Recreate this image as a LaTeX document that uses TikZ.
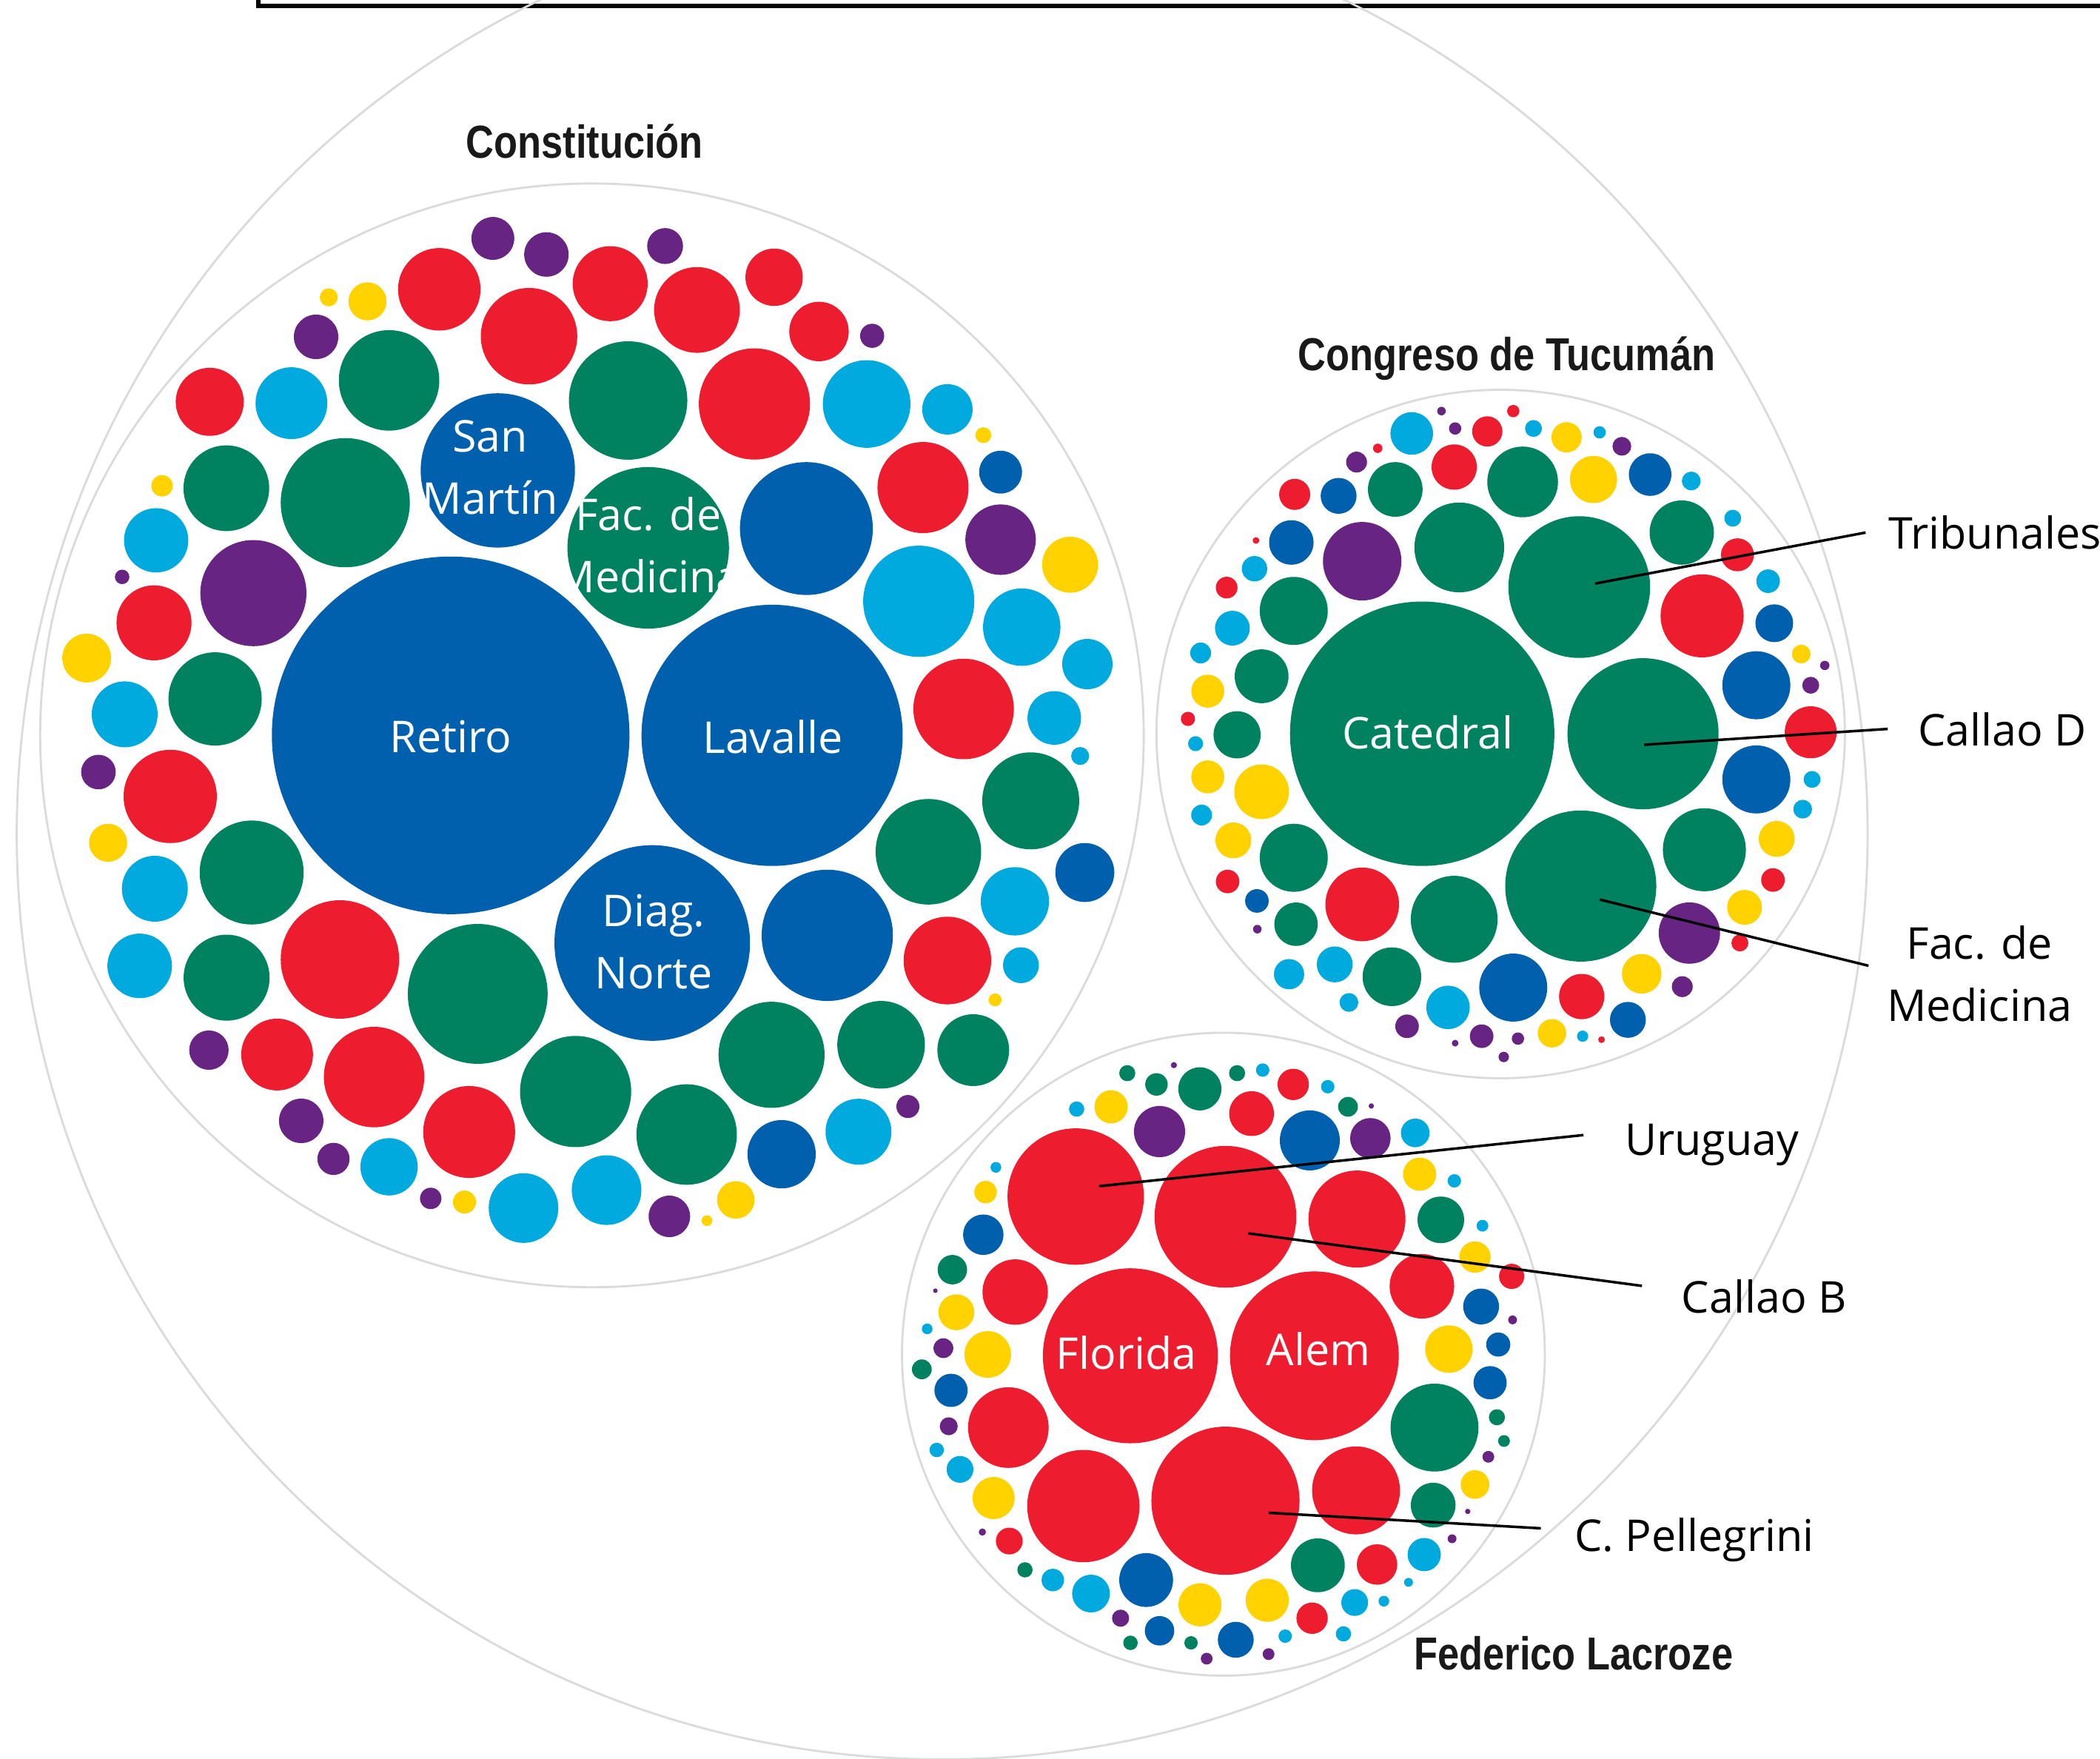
\documentclass[tikz,border=0pt]{standalone}
\usepackage{fontspec}
\setmainfont{Open Sans}
\newfontfamily\lblfont{Open Sans}
\newfontfamily\titlefont[FakeStretch=0.84]{Liberation Sans}

\tikzset{
    ring/.style={draw=black!14, line width=0.45pt},
    inlabel/.style={text=white, inner sep=0pt, align=center, font=\lblfont\fontsize{9.3}{13.2}\selectfont},
    outlabel/.style={text=black, inner sep=0pt, align=center, font=\lblfont\fontsize{9.3}{13.2}\selectfont},
    clustertitle/.style={text=black!90, inner sep=0pt, anchor=base, font=\titlefont\bfseries\fontsize{9.8}{12}\selectfont},
    leader/.style={draw=black, line width=0.55pt}
}

\begin{document}
\begin{tikzpicture}[x=0.01cm, y=-0.01cm]
    % Define colours
    \definecolor{rd}{RGB}{237,28,46}   % red
    \definecolor{gn}{RGB}{0,130,96}    % green
    \definecolor{bl}{RGB}{0,96,174}    % dark blue
    \definecolor{cy}{RGB}{0,170,222}   % light blue
    \definecolor{pu}{RGB}{104,36,131}  % purple
    \definecolor{ye}{RGB}{255,210,0}   % yellow

    \useasboundingbox (0,0) rectangle (1568,1313);
    \fill[white] (0,0) rectangle (1568,1313);

    % frame corner at the top
    \draw[line width=0.9pt] (193,-20) -- (193,4.3) -- (1600,4.3);

    % outer ring and cluster rings
    \draw[ring] (703.5,622.5) circle(691);
    \draw[ring] (442,549) circle(412);
    \draw[ring] (1120.5,548) circle(257);
    \draw[ring] (913.5,1011) circle(240);

    % 1. Constitucion
    \begin{scope}
        \foreach \x/\y/\r/\c in {368/178/16/pu, 408/190/16.6/pu, 328/216/30.8/rd, 395/251/36/rd,
            245.5/222/6.7/ye, 274.4/225/14.2/ye, 236/251.5/16.6/pu, 290.5/284/37.5/gn,
            156.6/300/25.4/rd, 217.6/301/26.8/cy, 169/364.5/32/gn, 257.8/375.3/48.2/gn,
            121/362.7/8/ye, 116.6/403.4/24/cy, 91.2/430.7/5.4/pu, 189.2/442.8/39.6/pu,
            115/465/28/rd, 64.7/491.3/18.2/ye, 93.1/533.3/24.6/cy, 160.6/521.8/34.8/gn,
            469/299/44.2/gn, 455.6/211.8/28/rd, 496.6/183.7/13.4/pu, 520.4/231.4/32/rd,
            578/207/21.4/rd, 611.5/247.5/22.2/rd, 651.2/250.7/9/pu, 563.3/301.6/41.5/rd,
            647.1/301.6/32.7/cy, 707.4/305.6/18.8/cy, 734.2/324.9/5.9/ye, 689.2/364/34/rd,
            747.1/352.5/16/bl, 602.1/394.6/49.6/bl, 747.1/402.9/26.3/pu, 799/421.6/20.9/ye,
            686/448.9/41.5/cy, 762.9/468.2/28.9/cy, 811.9/495.8/18.8/cy, 719.5/529.3/37.5/rd,
            787.2/536/20/cy, 73.5/576.4/12.9/pu, 127.1/594.6/34.8/rd, 80.7/629.2/14.2/ye,
            187.9/651.4/38.8/gn, 115.6/663.5/24.6/cy, 104.3/721.1/24.1/cy, 169.2/729.9/32.1/gn,
            253.8/716.3/44.2/rd, 356.7/742/52.2/gn, 156/784/14.7/pu, 206.9/787.3/26.8/rd,
            279.3/804.1/37.5/rd, 429.8/814.9/41.5/gn, 224.9/836.8/16.6/pu, 350.3/845.1/34.3/rd,
            249/865.2/12/pu, 290.5/871.1/21.4/cy, 321.6/894.7/8/pu, 346.8/897.4/8.6/ye,
            390.9/901.9/26/cy, 617.7/698.3/49/bl, 693.2/635.9/39.4/gn, 769.6/597.9/36.2/gn,
            810/651.4/22/bl, 757.8/672.9/25.5/cy, 707.4/717.1/32.7/rd, 762.3/720.6/13.4/cy,
            743/746.5/4.8/ye, 806.5/564.4/6.7/cy, 576.1/787.5/39.6/gn, 657.9/780/32.7/gn,
            726.7/784/26.8/gn, 512.7/847/37.5/gn, 583.6/861.7/25.5/bl, 641/844.9/24.6/cy,
            677.9/826.1/8.6/pu, 452.9/888.5/26/cy, 499.8/908.1/15.5/pu, 527.9/911.3/4/ye,
            549.4/895.8/14/ye} {
            \fill[\c] (\x,\y) circle(\r);
        }
        % named stations
        \fill[bl] (336.5,549) circle(133.5);
        \fill[bl] (576.5,549) circle(97.5);
        \fill[bl] (371.7,351.2) circle(57.6);
        \fill[gn] (484,409) circle(60.3);
        \fill[bl] (487,704) circle(73);
        \node[inlabel] (retiro) at (336.5,550) {Retiro};
        \node[inlabel] (lavalle) at (577,550) {Lavalle};
        \node[inlabel] (sanmartin) at (366,349) {San\\Martín};
        \node[inlabel] (facmedA) at (484,407) {Fac. de\\Medicina};
        \node[inlabel] (diagnorte) at (488,703) {Diag.\\Norte};
        \node[clustertitle] (constitucion) at (436.5,118) {Constitución};
    \end{scope}

    % 2. Congreso de Tucuman
    \begin{scope}
        \foreach \x/\y/\r/\c in {1089.6/408.7/33.5/gn, 1017.1/419/29.3/pu, 1041.8/365.4/20.4/gn,
            1136.9/359.8/26.4/gn, 1085.8/348.7/16.9/rd, 1189.8/358/17.6/ye, 1232.1/354.3/15.9/bl,
            1262.8/359.1/7/cy, 1255.7/397.6/24/gn, 1293.8/386.9/6.3/cy, 1297.3/414.2/12.3/rd,
            1270.9/459.8/31/rd, 1320.2/433.9/8.8/cy, 1324.8/465.3/14.1/bl, 1344.9/488.3/7/ye,
            1362.5/496.8/3.5/pu, 1311.4/511.6/25.4/bl, 1352/511.6/6.3/pu, 1352/546.7/19.4/rd,
            1311.4/581.9/25.4/bl, 1353/581.9/6.3/cy, 1346/604.1/7/cy, 1272.6/634.4/31/gn,
            1326.6/626.3/13.4/ye, 1323.8/657/8.8/rd, 1302.6/677.4/13/ye, 1261.4/696.6/22.9/pu,
            1299.1/704/6.3/rd, 1225.8/727/14.8/ye, 1256.1/736.6/7.8/pu, 1215.5/761.4/13.4/bl,
            1181/744/16.9/rd, 1158.8/771.4/10.6/ye, 1181.7/773.6/4.2/cy, 1195.8/776.2/2.5/rd,
            1129.9/737.3/25.4/bl, 1085.8/686.3/32.4/gn, 1081.2/752.1/16.2/cy, 1106.3/773.6/8.8/pu,
            1133.4/775.4/4.6/pu, 1122.8/789.1/3.9/pu, 1086.5/778.8/2.5/pu, 1050.6/766.2/8.8/pu,
            1039.3/729.2/21.9/gn, 1007.2/748.4/7/cy, 996.6/720/13.4/cy, 962.5/727.3/11.3/cy,
            1017.1/675.2/27.5/rd, 966/640.4/25.4/gn, 967.7/690/16.2/gn, 938.5/672.6/8.8/bl,
            938.8/693.7/3.2/pu, 916.6/658.1/8.8/rd, 920.9/627.4/13.4/ye, 897.2/608.5/7.8/cy,
            942/591.1/20.4/ye, 901.8/580/12.3/ye, 923.7/548.6/17.6/gn, 892.7/555.2/5.6/cy,
            887/536.7/5.3/rd, 901.8/516/12.3/ye, 896.5/487.5/7.8/cy, 942/504.9/20.1/gn,
            915.9/438.7/8.1/rd, 920.2/469/13/cy, 966/456.1/25.4/gn, 936.7/424.6/9.5/cy,
            937.8/403.5/2.5/rd, 964.2/405/16.6/bl, 966.7/369.1/11.6/rd, 999.5/370.2/13.4/bl,
            1012.9/345/7.8/pu, 1028.7/334.7/3.5/rd, 1054.1/323.6/15.9/cy, 1086.5/319.9/4.6/pu,
            1076.3/306.9/3.2/pu, 1110.5/322.1/11.3/rd, 1129.9/306.9/4.6/rd, 1145/319.9/6.3/cy,
            1169.7/326.5/11.3/ye, 1194.4/322.8/4.6/cy, 1211/333.2/7/pu} {
            \fill[\c] (\x,\y) circle(\r);
        }
        % named stations
        \fill[gn] (1061.9,547.8) circle(98.7);
        \fill[gn] (1179.2,438.3) circle(52.9);
        \fill[gn] (1226.8,547.8) circle(56.4);
        \fill[gn] (1180.3,661.5) circle(56.4);
        \node[inlabel] (catedral) at (1066,547) {Catedral};
        \node[clustertitle] (congreso) at (1125,276.5) {Congreso de Tucumán};
        \coordinate (tribpt) at (1191,435.7);
        \coordinate (calldpt) at (1227.6,556);
        \coordinate (facmedpt) at (1194.5,671.6);
    \end{scope}

    % 3. Federico Lacroze
    \begin{scope}
        \foreach \x/\y/\r/\c in {1013.2/910.1/36.2/rd, 1061.7/960.3/24.1/rd, 758/964.6/24.4/rd,
            752.9/1065.8/30.1/rd, 808.9/1124.4/41.9/rd, 1012.5/1112.7/32.8/rd, 1071.1/1065.8/32.8/gn,
            1070.1/1123.7/16.7/gn, 984/1168.6/20.1/gn, 1028.2/1168/15.1/rd, 1063.4/1160.6/12.4/cy,
            1051.7/1181.3/3.3/cy, 1011.5/1196.4/10/cy, 1033.3/1195.4/4/cy, 979.7/1208.1/11.7/rd,
            1003.1/1219.8/5.7/cy, 946.2/1194.7/16.1/ye, 959.6/1221.5/5/cy, 947.2/1234.9/4.4/pu,
            922.7/1224.2/13.4/bl, 896/1198.1/16.1/ye, 889.3/1226.5/5/gn, 901/1238.3/4.4/pu,
            865.8/1217.5/11/bl, 855.8/1179.6/20.1/bl, 836.7/1208.1/6.4/pu, 844.1/1226.5/5.4/gn,
            814.6/1189.7/14.1/cy, 786.1/1179.6/8.4/cy, 765.3/1172/5.7/gn, 753.6/1150.5/10/rd,
            733.5/1143.8/2.7/pu, 741.9/1118.4/15.7/ye, 716.8/1097/10/cy, 699.4/1082.5/5.4/cy,
            708.4/1064.8/6.7/pu, 710.1/1038/12.4/bl, 688.3/1022.3/7.4/gn, 737.5/1011.2/17.4/ye,
            704.4/1006.5/7.4/pu, 692.3/992.1/4/cy, 714.1/979.7/13.4/ye, 698.4/963.6/1.7/pu,
            711.1/947.9/11/gn, 734.2/921.8/15.1/bl, 735.9/890/8.4/ye, 743.6/871.5/4/cy,
            803.9/828/5.7/cy, 829.6/826.3/12.4/ye, 865.8/844.8/19.1/pu, 841.7/801.2/6/gn,
            863.5/809.6/8.4/gn, 876.5/795.2/2.3/pu, 895.9/812.9/16.1/gn, 923.7/801.2/6/gn,
            942.8/798.9/5/cy, 965.6/809.6/11.7/rd, 934.5/831.4/16.7/rd, 978/851.4/22.4/bl,
            991.4/811.3/5/cy, 1006.5/826.3/7.4/gn, 1023.9/825.7/2/pu, 1023.2/849.8/15.1/pu,
            1056.7/845.8/10.7/cy, 1060/876.6/12.4/ye, 1085.9/881.6/5/cy, 1075.8/910.7/17.4/gn,
            1106.9/915.1/4.4/cy, 1101.3/938.5/11.7/ye, 1128.7/952.9/9.4/rd, 1105.9/975.4/13.4/bl,
            1129.4/985.4/3.3/pu, 1081.8/1007.2/17.7/ye, 1118.7/1003.8/9/bl, 1112.6/1032.3/12.4/bl,
            1117.7/1058.1/6/gn, 1123/1075.8/4.4/gn, 1111.3/1087.6/4.4/pu, 1101.3/1108.3/10.7/ye,
            1095.9/1128.4/2/pu, 1084.2/1148.8/3.3/pu} {
            \fill[\c] (\x,\y) circle(\r);
        }
        % named stations
        \fill[rd] (844,1012.2) circle(65.3);
        \fill[rd] (981.4,1012.2) circle(63);
        \fill[rd] (803.2,893.3) circle(50.9);
        \fill[rd] (915,908.4) circle(52.9);
        \fill[rd] (915,1120.4) circle(55.3);
        \node[inlabel] (florida) at (841,1010) {Florida};
        \node[inlabel] (alem) at (984.5,1007) {Alem};
        \node[clustertitle] (lacroze) at (1175,1246.5) {Federico Lacroze};
        \coordinate (urupt) at (820.6,885.6);
        \coordinate (callbpt) at (932.1,920.8);
        \coordinate (pellpt) at (947.2,1129.4);
    \end{scope}

    % labels on the right and their leader lines
    \node[outlabel, anchor=base west] (lbltrib) at (1409.5,410) {Tribunales};
    \node[outlabel, anchor=base west] (lblcalld) at (1431.5,557) {Callao D};
    \node[outlabel] (lblfac) at (1478,727) {Fac. de\\Medicina};
    \node[outlabel, anchor=base west] (lbluru) at (1212.6,862.6) {Uruguay};
    \node[outlabel, anchor=base west] (lblcallb) at (1255,980) {Callao B};
    \node[outlabel, anchor=base west] (lblpell) at (1175,1158) {C. Pellegrini};

    \draw[leader] (tribpt) -- ([shift={(-16.5,-12.4)}]lbltrib.base west);
    \draw[leader] (calldpt) -- ([shift={(-22,-12.8)}]lblcalld.base west);
    \draw[leader] (facmedpt) -- ([shift={(-13,-6)}]lblfac.west);
    \draw[leader] (urupt) -- ([shift={(-30.3,-15.2)}]lbluru.base west);
    \draw[leader] (callbpt) -- ([shift={(-29,-20)}]lblcallb.base west);
    \draw[leader] (pellpt) -- ([shift={(-24.5,-17)}]lblpell.base west);
\end{tikzpicture}
\end{document}
